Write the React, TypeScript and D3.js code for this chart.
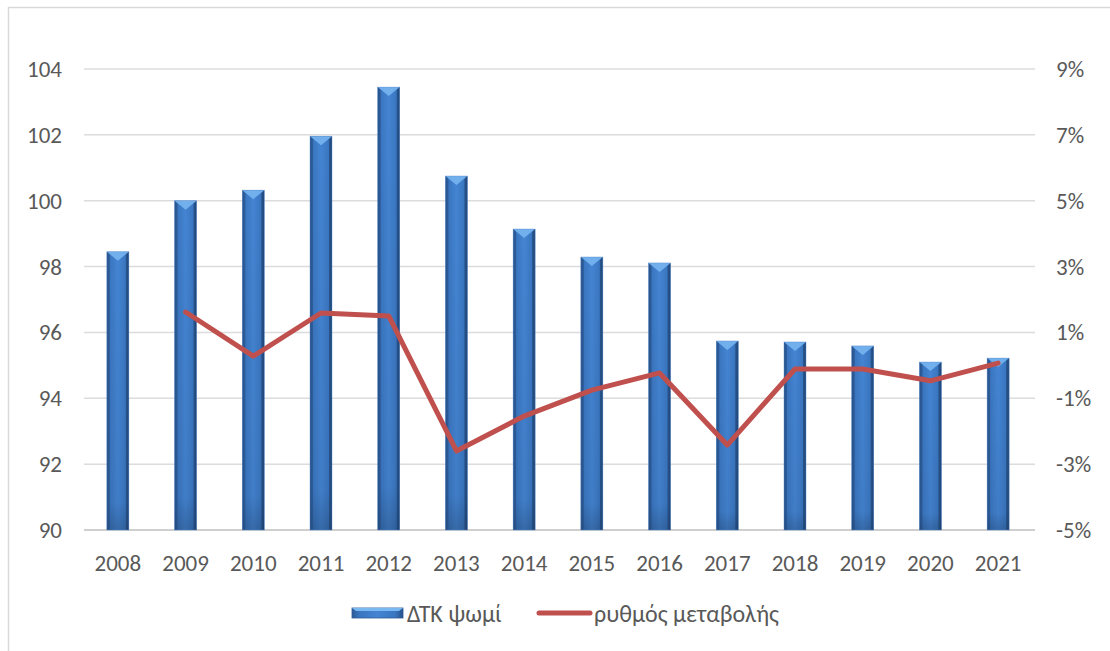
import React from "react";
import * as d3 from "d3";

const years = ["2008","2009","2010","2011","2012","2013","2014","2015","2016","2017","2018","2019","2020","2021"];
const indexValues = [98.45,100.0,100.32,101.96,103.45,100.75,99.14,98.29,98.11,95.74,95.71,95.59,95.1,95.22];
const rateValues: (number | null)[] = [null,1.62,0.28,1.59,1.5,-2.6,-1.54,-0.75,-0.23,-2.42,-0.11,-0.11,-0.47,0.07];
const leftTicks = [90,92,94,96,98,100,102,104];
const rightTicks = [-5,-3,-1,1,3,5,7,9];
const seriesNames = ["ΔΤΚ ψωμί", "ρυθμός μεταβολής"];

const W = 1110, H = 651;
const left = 84, right = 1032, top = 69, bottom = 530;
const font = "Carlito, Calibri, 'Open Sans', 'Noto Sans', sans-serif";
const fs = 23;

export default function App() {
  const x = d3.scaleBand<string>().domain(years).range([left, right]).paddingInner(0);
  const yL = d3.scaleLinear().domain([90, 104]).range([bottom, top]);
  const yR = d3.scaleLinear().domain([-5, 9]).range([bottom, top]);
  const bw = 22;
  const line = d3.line<[string, number | null]>()
    .defined(d => d[1] !== null)
    .x(d => (x(d[0]) as number) + x.bandwidth() / 2)
    .y(d => yR(d[1] as number));
  const pts = years.map((y, i) => [y, rateValues[i]] as [string, number | null]);

  return (
    <svg width={W} height={H} style={{ position: "absolute", left: 0, top: 0, background: "#fff" }} fontFamily={font}>
      <defs>
        <linearGradient id="barG" x1="0" x2="1" y1="0" y2="0">
          <stop offset="0" stopColor="#2c5b97" />
          <stop offset="0.15" stopColor="#3a76c0" />
          <stop offset="0.5" stopColor="#4484d2" />
          <stop offset="0.85" stopColor="#3a76c0" />
          <stop offset="1" stopColor="#264f86" />
        </linearGradient>
        <linearGradient id="barV" x1="0" x2="0" y1="0" y2="1">
          <stop offset="0" stopColor="#000" stopOpacity="0" />
          <stop offset="0.9" stopColor="#000" stopOpacity="0.05" />
          <stop offset="1" stopColor="#000" stopOpacity="0.2" />
        </linearGradient>
      </defs>
      <rect x={8.5} y={7.5} width={W} height={H} fill="none" stroke="#d9d9d9" strokeWidth={1.5} />
      {leftTicks.map(t => (
        <g key={t}>
          <line x1={left} x2={right + 3} y1={yL(t)} y2={yL(t)} stroke={t === 90 ? "#cfcfcf" : "#dcdcdc"} strokeWidth={t === 90 ? 2 : 1.5} />
          <text x={62} y={yL(t)} dy="0.35em" textAnchor="end" fontSize={fs} fill="#595959">{t}</text>
        </g>
      ))}
      {rightTicks.map(t => (
        <text key={t} x={1056} y={yR(t)} dy="0.35em" textAnchor="start" fontSize={fs} fill="#595959">{t}%</text>
      ))}
      {years.map(y => (
        <text key={y} x={(x(y) as number) + x.bandwidth() / 2} y={563} dy="0.35em" textAnchor="middle" fontSize={fs} fill="#595959">{y}</text>
      ))}
      {years.map((y, i) => {
        const cx = (x(y) as number) + x.bandwidth() / 2;
        const x0 = cx - bw / 2;
        const yt = yL(indexValues[i]);
        const h = bottom - yt;
        return (
          <g key={y}>
            <rect x={x0} y={yt} width={bw} height={h} fill="url(#barG)" />
            <rect x={x0} y={yt} width={bw} height={h} fill="url(#barV)" />
            <polygon points={`${x0},${yt} ${x0 + bw},${yt} ${cx},${yt + 9}`} fill="#7ab8f2" opacity={0.85} />
            <polygon points={`${x0},${yt} ${x0 + 3},${yt + 3} ${x0 + 3},${bottom} ${x0},${bottom}`} fill="#234a80" opacity={0.5} />
            <polygon points={`${x0 + bw},${yt} ${x0 + bw - 3},${yt + 3} ${x0 + bw - 3},${bottom} ${x0 + bw},${bottom}`} fill="#1e3f6e" opacity={0.55} />
            <rect x={x0} y={yt} width={bw} height={h} fill="none" stroke="#5a8fd0" strokeWidth={0.6} opacity={0.7} />
          </g>
        );
      })}
      <path d={line(pts) as string} fill="none" stroke="#c0504d" strokeWidth={5} strokeLinejoin="round" strokeLinecap="round" />
      <g>
        <rect x={352} y={608} width={51} height={10} fill="url(#barG)" stroke="#2c5b97" strokeWidth={0.8} />
        <polygon points="352,608 403,608 399,611 356,611" fill="#7ab8f2" />
        <text x={407} y={614} dy="0.35em" fontSize={24} fill="#595959">{seriesNames[0]}</text>
        <line x1={539} x2={590} y1={613} y2={613} stroke="#c0504d" strokeWidth={5} strokeLinecap="round" />
        <text x={594} y={614} dy="0.35em" fontSize={24} fill="#595959">{seriesNames[1]}</text>
      </g>
    </svg>
  );
}
